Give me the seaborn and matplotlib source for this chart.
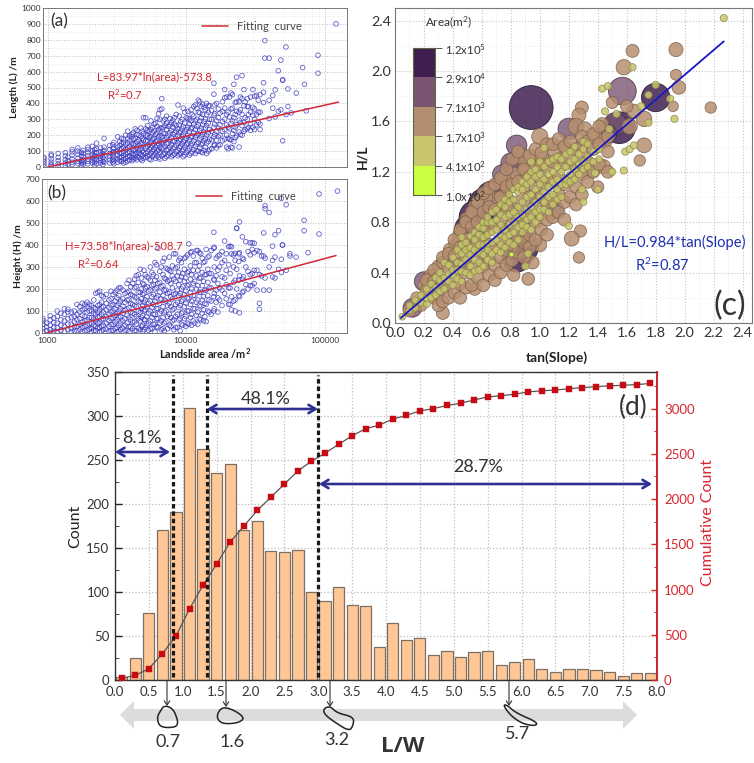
"""Landslide geometry figure: L/H vs area, H/L vs tan(slope), L/W histogram."""

import numpy as np
import pandas as pd
import matplotlib
matplotlib.use("Agg")
import matplotlib.pyplot as plt
import matplotlib.patches as mpatches
from matplotlib.colors import ListedColormap
from matplotlib.ticker import LogLocator, MultipleLocator, NullFormatter
import seaborn as sns

# ── Panel (a): length against area, values grouped per area column ─────────
a_area = [940, 1060, 1190, 1340, 1500, 1650, 1800, 1950, 2100, 2250, 2400, 2550, 2800, 3000, 3200, 3400,
          3650, 3900, 4150, 4400, 4700, 4900, 5100, 5400, 5700, 6000, 6300, 6650, 7000, 7400, 7800, 8200,
          8700, 9100, 9500, 10000, 10500, 11000, 11600, 12200, 12800, 13400, 14000, 14700, 15800, 16500,
          17500, 18900, 20000, 21000, 22000, 23000, 24000, 25200, 26000, 27500, 29000, 30200, 32000,
          34000, 36000, 36800, 39500, 42000, 43700, 46000, 48000, 49500, 52300, 54000, 57000, 62000,
          69000, 71000, 73000, 89000, 120000]
a_length = [
    [5, 20, 35, 50, 60], [5, 15, 30, 50, 70, 80], [5, 20, 40, 60, 85], [10, 25, 45, 70, 90],
    [15, 30, 50, 75, 95, 110], [20, 35, 55, 80, 100, 120], [15, 30, 45, 65, 85, 105],
    [20, 35, 50, 70, 90, 110, 125], [25, 40, 60, 80, 100, 130], [20, 45, 65, 90, 115, 150],
    [25, 40, 55, 75, 95, 120], [30, 50, 70, 105, 125, 180], [25, 45, 65, 85, 110, 135],
    [20, 40, 60, 95, 120, 155], [30, 50, 75, 100, 125, 190], [35, 60, 85, 115, 145, 180],
    [30, 55, 80, 110, 140, 200], [45, 70, 95, 130, 165, 195], [50, 75, 105, 140, 175, 215],
    [45, 65, 90, 125, 160, 205, 230], [50, 80, 115, 150, 190, 245], [55, 90, 130, 170, 210, 310],
    [60, 85, 120, 165, 200, 240, 310], [50, 75, 110, 145, 185, 225], [65, 100, 135, 175, 215, 250],
    [55, 90, 125, 160, 205, 275], [60, 105, 145, 190, 235, 335], [70, 115, 155, 195, 245, 365, 430],
    [55, 85, 130, 170, 210, 260, 300], [75, 110, 150, 200, 255], [65, 100, 140, 185, 230, 280],
    [80, 125, 165, 215, 270, 310], [70, 105, 150, 195, 240, 390], [85, 130, 175, 225, 285],
    [65, 110, 160, 205, 255, 370], [90, 140, 180, 235, 310], [75, 120, 170, 220, 270, 300],
    [95, 150, 195, 250, 330], [85, 130, 185, 235, 290, 390], [100, 155, 210, 265, 345, 420],
    [95, 140, 190, 245, 310, 380], [105, 165, 220, 285, 375], [85, 150, 200, 260, 330, 400],
    [110, 175, 235, 300, 385], [135, 190, 250, 325, 458, 527], [120, 170, 225, 290, 400],
    [140, 200, 265, 340], [175, 235, 300, 370, 435, 487], [115, 180, 250, 345], [125, 170, 275, 365, 465],
    [160, 230, 310, 520], [195, 265, 350, 410, 565], [125, 220, 295, 345, 410], [200, 260, 330, 430, 575],
    [225, 280, 385, 487], [240, 300, 380, 430], [230, 270, 345, 440], [250, 325, 375, 487],
    [265, 330, 450], [235, 270, 345, 455], [405, 470, 530], [685, 795], [305, 420, 685], [370, 450],
    [315, 485], [350, 605], [360, 672], [165, 548, 545], [330, 755], [380, 491], [340], [465],
    [625], [520], [353], [590, 703], [900]]
a_area_fill = [1400, 1750, 2180, 2500, 2950, 3300, 3520, 3780, 4050, 4280, 4550, 4800, 5250, 5550, 5850, 6150,
               6450, 6800, 7200, 7600, 8000, 8450, 8900, 9300, 9750, 10250, 10800, 11300, 11900, 12500, 13100,
               13700, 14400, 15200, 16000, 17000, 18200, 19500, 20500, 21500, 22500, 24500, 26500, 28000,
               31000, 33000]
a_length_fill = [
    [18, 38, 62], [10, 25, 42, 72, 92], [12, 30, 50, 72, 92, 110], [15, 35, 60, 85, 100],
    [30, 50, 72, 90, 115, 140], [40, 62, 90, 110, 135, 160], [25, 45, 70, 95, 125, 155, 175],
    [38, 65, 88, 120, 150, 180, 225], [40, 60, 85, 115, 150, 190, 205], [55, 80, 110, 145, 180, 240],
    [60, 85, 105, 135, 170, 200], [40, 70, 100, 140, 180, 225], [70, 95, 130, 160, 195, 230, 260],
    [45, 85, 120, 155, 190, 235, 290], [75, 110, 145, 180, 225, 270], [70, 100, 135, 170, 215, 255, 305],
    [50, 90, 125, 160, 200, 245, 300, 360], [80, 120, 165, 210, 250, 290], [65, 105, 145, 185, 235, 275, 320],
    [90, 125, 170, 215, 265, 305], [75, 115, 160, 205, 250, 295], [95, 135, 180, 225, 260, 330],
    [80, 120, 165, 215, 265, 320], [100, 145, 190, 240, 300], [75, 125, 170, 220, 275, 345],
    [105, 150, 200, 250, 305, 350], [85, 135, 185, 240, 290, 360], [110, 165, 215, 270, 320, 380],
    [100, 145, 200, 255, 300, 370], [120, 175, 230, 290, 340, 410], [90, 150, 205, 265, 330, 395],
    [125, 180, 245, 300, 360], [100, 160, 215, 275, 345, 385], [115, 170, 225, 300, 355],
    [140, 205, 270, 335, 390], [135, 190, 245, 310, 365], [165, 225, 285, 350, 410],
    [125, 200, 265, 330, 440], [175, 240, 315, 440], [120, 210, 290, 370, 455], [185, 250, 330, 405],
    [205, 280, 360, 440], [235, 310, 410], [250, 330, 380], [235, 300, 365, 445], [280, 345, 420]]
a_fit_area = [1000, 125000]
a_fit_length = [0, 408]

# ── Panel (b): height against area ─────────────────────────────────────────
b_area = [940, 1060, 1190, 1340, 1500, 1650, 1800, 1950, 2100, 2250, 2400, 2550, 2800, 3000, 3200, 3400,
          3650, 3900, 4150, 4400, 4700, 4900, 5100, 5400, 5700, 6000, 6300, 6650, 7000, 7400, 7800, 8200,
          8700, 9100, 9500, 10000, 10500, 11000, 11600, 12200, 12800, 13400, 14000, 14700, 15900, 16500,
          17500, 19000, 20300, 21300, 22600, 23200, 24300, 25500, 27000, 29000, 31000, 33800, 36300,
          37100, 39700, 42000, 43700, 46400, 48600, 49500, 52600, 56000, 62000, 70800, 75600, 90600, 123000]
b_height = [
    [5, 20, 40, 55, 65], [3, 15, 35, 60, 78], [5, 25, 45, 75, 100], [8, 30, 55, 85, 110],
    [5, 20, 40, 70, 95], [10, 30, 60, 85, 130], [5, 25, 50, 80, 105, 135], [12, 35, 60, 95, 120, 140],
    [5, 20, 45, 70, 100, 125], [10, 30, 55, 85, 110, 180], [5, 25, 50, 75, 105, 130, 190],
    [15, 35, 65, 95, 120, 165], [8, 30, 55, 85, 115, 150], [12, 40, 70, 100, 130, 175],
    [5, 25, 60, 90, 125, 160, 195], [15, 45, 75, 110, 145, 205], [10, 35, 65, 105, 140, 180],
    [5, 30, 70, 115, 150, 190, 240], [20, 50, 90, 130, 170, 225], [10, 40, 75, 120, 160, 210, 260],
    [15, 55, 95, 140, 185, 290], [8, 35, 80, 125, 175, 225], [25, 60, 105, 150, 205, 265],
    [12, 45, 90, 135, 190, 250], [20, 70, 115, 165, 215, 275], [5, 40, 85, 145, 200, 240, 320],
    [25, 65, 110, 170, 225, 385], [15, 55, 100, 155, 210, 300], [10, 45, 95, 150, 195, 250, 340],
    [20, 75, 125, 180, 235, 290], [30, 70, 120, 165, 225, 280], [15, 60, 110, 175, 245, 360],
    [25, 85, 140, 195, 260, 300], [10, 65, 125, 180, 240, 340], [35, 95, 150, 210, 270],
    [30, 75, 135, 190, 250, 345], [40, 100, 155, 220, 280, 405], [35, 85, 145, 200, 265, 370],
    [45, 110, 170, 235, 320], [40, 95, 150, 215, 285, 375], [60, 120, 185, 250, 360],
    [55, 105, 165, 235, 320], [52, 130, 195, 265, 380], [95, 150, 205, 270, 350],
    [100, 165, 245, 385, 458], [140, 195, 260, 340], [150, 205, 300, 355], [180, 250, 330, 418],
    [130, 205, 310, 392], [105, 165, 360, 392], [100, 150, 240, 330, 362], [200, 290, 475, 477],
    [92, 165, 260, 365, 505], [185, 245, 340, 437], [220, 300, 415], [215, 265, 355, 410],
    [225, 285, 365, 408], [108, 135, 265, 370], [195, 350, 455], [250, 340, 565, 578],
    [195, 300, 548], [255, 330, 395], [250, 345, 447], [290, 465], [275, 335, 612], [400, 400],
    [285, 583], [360, 350], [345], [465, 512], [365], [450, 632], [645]]
b_area_fill = [1000, 1125, 1265, 1420, 1580, 1730, 1880, 2020, 2180, 2330, 2480, 2680, 2900, 3100, 3300, 3530,
               3780, 4020, 4280, 4550, 4800, 5000, 5250, 5550, 5850, 6150, 6500, 6850, 7200, 7600, 8000, 8450,
               8900, 9300, 9750, 10250, 10800, 11300, 11900, 12500, 13100, 13700, 14400, 15200, 16000, 17000,
               18200, 19500, 20800, 22000, 24000, 26000, 28000, 30000, 32500, 35000]
b_height_fill = [
    [10, 28, 45], [8, 25, 48, 68], [12, 35, 60, 90], [15, 40, 65, 95, 108], [8, 28, 50, 75, 100],
    [15, 38, 65, 95, 120], [8, 30, 55, 75, 110, 130], [18, 42, 70, 100, 130], [10, 35, 62, 90, 115, 150],
    [22, 45, 72, 95, 125, 185], [8, 30, 60, 85, 115, 140, 170], [18, 45, 75, 105, 135, 175],
    [10, 38, 65, 95, 125, 155, 190], [20, 50, 80, 110, 145, 185], [8, 35, 70, 100, 135, 170, 205],
    [22, 55, 90, 120, 155, 195], [12, 45, 80, 110, 150, 185, 225], [28, 60, 95, 135, 175, 210],
    [10, 50, 85, 125, 165, 205, 245], [22, 65, 100, 145, 185, 230, 265], [30, 70, 110, 155, 200, 250],
    [15, 60, 100, 140, 180, 220, 285], [35, 75, 120, 165, 210, 255], [18, 55, 100, 145, 195, 240, 300],
    [40, 85, 130, 175, 220, 265], [28, 65, 110, 160, 205, 255, 310], [45, 90, 135, 185, 230, 280],
    [20, 70, 120, 170, 215, 265, 325], [50, 100, 145, 195, 245, 295], [35, 85, 135, 185, 240, 285, 345],
    [55, 105, 155, 205, 260, 305], [25, 75, 130, 180, 235, 295, 360], [60, 115, 170, 220, 275, 330],
    [40, 90, 145, 200, 255, 320], [65, 120, 175, 235, 290, 340], [45, 100, 160, 215, 275, 355],
    [70, 130, 185, 245, 305, 365], [55, 110, 170, 225, 285, 350], [80, 140, 200, 260, 320, 375],
    [65, 125, 185, 250, 305, 365], [90, 150, 215, 275, 340], [75, 135, 195, 265, 325],
    [100, 170, 230, 290, 345], [85, 145, 205, 270, 375], [110, 180, 240, 300, 390], [95, 160, 225, 285, 350],
    [125, 195, 255, 320, 370], [155, 220, 285, 360], [130, 205, 270, 395], [145, 230, 300, 355],
    [170, 240, 325, 360], [190, 255, 335], [200, 280, 370], [215, 270, 380, 410], [195, 285, 375], [260, 350]]
b_fit_area = [1000, 120000]
b_fit_height = [0, 352]

# ── Panel (c): (tan slope, H/L) per class, largest landslides first ────────
c_dark_points = [(0.94, 1.71), (0.52, 0.74), (0.56, 0.84), (0.62, 0.94), (0.67, 1.0), (0.88, 0.6),
                 (0.84, 0.52), (1.8, 1.79), (1.55, 1.55)]
c_dark_area = [120000, 45000, 55000, 50000, 45000, 45000, 35000, 32000, 45000]
c_mid_points = [(1.57, 1.84), (0.84, 1.41), (1.2, 1.54), (0.85, 1.25), (0.74, 1.18), (0.72, 1.05), (0.66, 0.98),
                (0.2, 0.33), (1.52, 1.58), (1.46, 1.5), (0.8, 1.27), (0.12, 0.12), (0.6, 0.78), (0.76, 0.95),
                (1.1, 0.9), (0.45, 0.62)]
c_mid_area = [30000, 12000, 14000, 14000, 10000, 22000, 20000, 10000, 16000, 12000, 11000, 9000, 18000, 15000,
              9000, 8000]
c_brown_points = [
    (1.64, 2.16), (1.58, 2.03), (1.94, 2.17), (1.94, 1.97), (1.96, 1.87), (1.29, 1.71), (1.92, 1.72), (2.18, 1.71),
    (1.65, 1.68), (1.72, 1.62), (1.27, 1.65), (1.0, 1.48), (1.25, 1.56), (1.31, 1.54), (1.72, 1.41), (1.69, 1.29),
    (1.43, 1.58), (1.5, 1.75), (1.6, 1.72), (1.28, 0.73), (1.22, 0.67), (1.27, 0.52), (0.92, 0.35), (0.82, 0.38),
    (0.55, 0.27), (0.33, 0.08), (1.0, 0.62), (0.95, 0.48), (1.44, 1.24), (1.4, 1.08), (1.34, 1.2), (1.62, 1.56),
    (1.45, 1.45), (1.38, 1.48), (1.3, 1.42), (1.18, 1.38), (1.1, 1.36), (1.02, 1.3), (0.95, 1.3), (0.88, 1.32),
    (0.9, 1.2), (0.82, 1.18), (0.75, 1.12), (0.7, 0.98), (0.62, 1.0), (0.56, 0.92), (0.5, 0.82), (0.45, 0.7),
    (0.42, 0.62), (0.38, 0.58), (0.3, 0.45), (0.25, 0.38), (0.2, 0.3), (0.15, 0.2), (0.1, 0.1), (0.18, 0.14)]
c_brown_area = [
    3000, 5000, 3800, 1800, 3500, 3000, 1600, 2000, 4000, 5000, 3800, 6000, 5500, 4000, 4500, 2000,
    2800, 2400, 2600, 2500, 4500, 2000, 2800, 2600, 2800, 3000, 3500, 3000, 4000, 2500, 3000, 5000,
    4500, 3800, 3500, 3800, 4000, 4200, 4500, 5500, 3800, 4000, 6500, 5000, 5500, 6000, 5000, 4500,
    4200, 3500, 3000, 3000, 2600, 2400, 3000, 2400]
c_brown_tan = [0.22, 0.27, 0.3, 0.33, 0.37, 0.41, 0.45, 0.49, 0.53, 0.57, 0.61, 0.65, 0.69, 0.73, 0.77, 0.81,
               0.85, 0.89, 0.93, 0.97, 1.01, 1.05, 1.09, 1.13, 1.17, 1.21, 1.25, 1.29, 1.33, 1.37, 1.41, 1.47]
c_brown_hl = [
    [0.26, 0.34], [0.2, 0.33, 0.42], [0.14, 0.24, 0.36], [0.17, 0.31, 0.48, 0.52], [0.2, 0.3, 0.44, 0.55],
    [0.24, 0.4, 0.53, 0.66], [0.2, 0.31, 0.47, 0.6, 0.74], [0.28, 0.4, 0.52, 0.66, 0.8],
    [0.3, 0.44, 0.6, 0.76, 0.88], [0.36, 0.52, 0.64, 0.8, 0.96], [0.3, 0.45, 0.56, 0.68, 0.88, 1.03],
    [0.38, 0.5, 0.62, 0.74, 0.92, 1.07], [0.34, 0.46, 0.6, 0.78, 0.9, 1.1], [0.4, 0.52, 0.66, 0.82, 1.0, 1.15],
    [0.46, 0.58, 0.74, 0.88, 1.08, 1.22], [0.5, 0.62, 0.78, 0.92, 1.1, 1.3], [0.56, 0.68, 0.82, 0.96, 1.12, 1.36],
    [0.52, 0.64, 0.78, 0.9, 1.06, 1.22], [0.6, 0.7, 0.84, 1.0, 1.16, 1.33], [0.66, 0.8, 0.94, 1.08, 1.24, 1.38],
    [0.74, 0.86, 1.0, 1.14, 1.26, 1.35], [0.7, 0.82, 0.96, 1.1, 1.24, 1.42], [0.84, 0.98, 1.12, 1.28, 1.42],
    [0.88, 1.02, 1.16, 1.3, 1.46], [0.82, 0.96, 1.1, 1.26, 1.4], [1.0, 1.14, 1.3, 1.44], [0.94, 1.08, 1.24, 1.38],
    [1.02, 1.18, 1.34, 1.48], [1.12, 1.28, 1.44], [1.2, 1.38, 1.5], [1.26, 1.42, 1.56], [1.2, 1.36, 1.48]]
c_olive_tan = [0.05, 0.1, 0.14, 0.18, 0.22, 0.25, 0.28, 0.31, 0.34, 0.37, 0.4, 0.43, 0.46, 0.49, 0.52, 0.55, 0.58,
               0.61, 0.64, 0.67, 0.7, 0.73, 0.76, 0.79, 0.82, 0.85, 0.88, 0.91, 0.94, 0.97, 1.0, 1.03, 1.06, 1.09,
               1.12, 1.15, 1.18, 1.21, 1.24, 1.27, 1.3, 1.33, 1.37, 1.41]
c_olive_hl = [
    [0.05], [0.1, 0.14], [0.12, 0.18], [0.16, 0.22], [0.15, 0.2, 0.27], [0.2, 0.31], [0.22, 0.28, 0.36],
    [0.25, 0.34, 0.4], [0.27, 0.36, 0.48], [0.33, 0.39, 0.46], [0.3, 0.38, 0.42, 0.52], [0.35, 0.42, 0.48, 0.58],
    [0.33, 0.41, 0.47, 0.55, 0.62, 0.68], [0.4, 0.5, 0.58, 0.64], [0.38, 0.45, 0.54, 0.6, 0.69],
    [0.41, 0.5, 0.58, 0.66, 0.72], [0.42, 0.48, 0.56, 0.62, 0.7, 0.76], [0.45, 0.54, 0.62, 0.68, 0.75, 0.8],
    [0.5, 0.58, 0.63, 0.7, 0.8, 0.84], [0.48, 0.55, 0.64, 0.72, 0.8, 0.88], [0.58, 0.66, 0.74, 0.82, 0.9],
    [0.56, 0.62, 0.7, 0.78, 0.86, 0.94], [0.6, 0.68, 0.74, 0.84, 0.92, 0.98], [0.64, 0.7, 0.78, 0.86, 0.96, 1.02],
    [0.62, 0.72, 0.8, 0.88, 0.98, 1.06], [0.66, 0.76, 0.84, 0.92, 1.04, 1.08], [0.72, 0.78, 0.86, 0.96, 1.06, 1.12],
    [0.76, 0.82, 0.9, 1.0, 1.1, 1.16], [0.74, 0.84, 0.92, 1.02, 1.12, 1.2], [0.8, 0.88, 0.96, 1.06, 1.16, 1.22],
    [0.84, 0.9, 1.0, 1.1, 1.18, 1.28], [0.9, 0.96, 1.04, 1.14, 1.24], [0.88, 1.0, 1.08, 1.18, 1.28],
    [0.94, 1.02, 1.12, 1.2, 1.3], [0.98, 1.06, 1.14, 1.24, 1.32], [1.0, 1.1, 1.2, 1.3], [1.1, 1.14, 1.24, 1.34],
    [1.12, 1.18, 1.28, 1.36], [1.14, 1.22, 1.3, 1.4], [1.18, 1.26, 1.34], [1.22, 1.28, 1.38, 1.44],
    [1.24, 1.32, 1.42], [1.28, 1.36], [1.38, 1.3]]
c_olive_outliers = [
    (2.27, 2.42), (1.75, 1.81), (1.8, 1.89), (1.64, 2.03), (1.43, 1.86), (1.47, 1.88), (1.9, 1.78), (1.93, 1.62),
    (1.75, 1.59), (1.45, 1.68), (1.53, 1.66), (1.7, 1.72), (1.48, 1.54), (1.59, 1.36), (1.62, 1.38), (1.65, 1.41),
    (1.5, 1.2), (1.58, 1.21), (0.92, 0.55), (0.94, 1.28), (1.03, 1.39), (1.3, 0.96), (1.4, 1.06), (1.38, 1.19),
    (1.29, 1.06), (1.2, 0.77), (0.9, 0.45)]
c_lime_points = [(0.8, 0.55)]
c_fit_tan = [0.04, 2.27]
c_fit_hl = [0.04, 2.235]
c_bar_labels = ["1.2x10$^5$", "2.9x10$^4$", "7.1x10$^3$", "1.7x10$^3$", "4.1x10$^2$", "1.0x10$^2$"]

# ── Panel (d): L/W histogram and cumulative count ──────────────────────────
lw_centers = [0.1, 0.3, 0.5, 0.7, 0.9, 1.1, 1.3, 1.5, 1.7, 1.9, 2.1, 2.3, 2.5, 2.7, 2.9, 3.1, 3.3, 3.5, 3.7, 3.9,
              4.1, 4.3, 4.5, 4.7, 4.9, 5.1, 5.3, 5.5, 5.7, 5.9, 6.1, 6.3, 6.5, 6.7, 6.9, 7.1, 7.3, 7.5, 7.7, 7.9]
lw_count = [3, 25, 76, 170, 191, 309, 262, 235, 245, 171, 181, 147, 146, 148, 100, 90, 106, 85, 84, 38,
            65, 45, 48, 28, 33, 26, 32, 33, 17, 20, 24, 13, 9, 13, 13, 11, 9, 5, 8, 8]
lw_cumulative = [20, 50, 126, 292, 486, 787, 1049, 1282, 1525, 1700, 1875, 2020, 2166, 2312, 2419, 2507, 2605, 2700,
                 2778, 2818, 2885, 2925, 2975, 3000, 3035, 3060, 3095, 3130, 3142, 3160, 3185, 3197, 3206, 3220,
                 3232, 3243, 3252, 3258, 3266, 3278]

W, H = 754, 763
BLUE_DOT = "#3a3ac0"
RED = "#d8262f"


def fig_xy(x, y):
    """Pixel position in the picture -> figure fraction."""
    return x / W, 1 - y / H


def axes_px(fig, left, top, right, bottom):
    return fig.add_axes([left / W, 1 - bottom / H, (right - left) / W, (bottom - top) / H])


def note(fig, x, y, text, **kw):
    kw.setdefault("ha", "center")
    kw.setdefault("va", "center")
    fig.text(*fig_xy(x, y), text, **kw)


def columns_frame(xs, values, x="area", y="value"):
    return pd.DataFrame({x: xs, y: values}).explode(y).astype(float)


def smooth_closed(points, rounds=3):
    pts = np.array(points, dtype=float)
    for _ in range(rounds):
        nxt = np.roll(pts, -1, axis=0)
        pts = np.column_stack([0.75 * pts + 0.25 * nxt, 0.25 * pts + 0.75 * nxt]).reshape(-1, 2)
    return pts


def draw_log_panel(ax, frame, fit_x, fit_y, ymax, ylabel, legend_x, legend_y):
    sns.scatterplot(data=frame, x="area", y="value", ax=ax, s=11, facecolors="none",
                    edgecolor=BLUE_DOT, linewidth=0.6, alpha=0.8, legend=False)
    sns.lineplot(x=fit_x, y=fit_y, ax=ax, color="#d02836", lw=1.1, label="Fitting  curve")
    ax.set_xscale("log")
    ax.set_xlim(925, 144000)
    ax.set_ylim(0, ymax)
    ax.xaxis.set_major_locator(LogLocator(base=10, numticks=6))
    ax.xaxis.set_minor_locator(LogLocator(base=10, subs=np.arange(2, 10), numticks=6))
    ax.yaxis.set_major_locator(MultipleLocator(100))
    ax.yaxis.set_minor_locator(MultipleLocator(50))
    ax.xaxis.set_minor_formatter(NullFormatter())
    ax.grid(which="major", color="#bdbdbd", ls=":", lw=0.7)
    ax.grid(which="minor", color="#e4e4e4", ls=":", lw=0.5)
    ax.tick_params(which="major", axis="y", labelsize=6, length=2.5, width=0.6, color="#555555", pad=1.5, direction="in")
    ax.tick_params(which="major", axis="x", labelsize=6, length=2.5, width=0.6, color="#555555", pad=3, direction="in")
    ax.tick_params(which="minor", length=1.5, width=0.4, color="#777777", direction="in")
    ax.set_xlabel("")
    ax.set_ylabel(ylabel, fontsize=7.5, fontweight="bold", labelpad=2, color="#222222")
    for sp in ax.spines.values():
        sp.set_color("#777777")
        sp.set_linewidth(0.7)
    ax.legend(loc="upper right", bbox_to_anchor=(legend_x, legend_y), frameon=False, fontsize=8,
              handlelength=2.4, labelcolor="#444444")


def draw_panel_c(fig):
    ax = axes_px(fig, 395, 8, 752, 323)
    brown_fill = columns_frame(c_brown_tan, c_brown_hl, "tan", "hl")
    olive_fill = columns_frame(c_olive_tan, c_olive_hl, "tan", "hl")
    groups = [
        (pd.DataFrame(c_dark_points, columns=["tan", "hl"]), c_dark_area, "#3f2050", "#1c1024", 0.85),
        (pd.DataFrame(c_mid_points, columns=["tan", "hl"]), c_mid_area, "#7b5573", "#3e2c3c", 0.8),
        (pd.DataFrame(c_brown_points, columns=["tan", "hl"]), c_brown_area, "#b68f70", "#7d604c", 0.85),
        (brown_fill, 2800, "#b68f70", "#7d604c", 0.85),
        (olive_fill, 420, "#c8c66c", "#8b8b48", 0.85),
        (pd.DataFrame(c_olive_outliers, columns=["tan", "hl"]), 500, "#c8c66c", "#8b8b48", 0.85),
        (pd.DataFrame(c_lime_points, columns=["tan", "hl"]), 150, "#ccff44", "#8b8b48", 1.0),
    ]
    for df, area, face, edge, alpha in groups:
        df = df.assign(area=area)
        # marker area follows landslide area ** (2/3)
        sns.scatterplot(data=df, x="tan", y="hl", ax=ax, color=face, edgecolor=edge, linewidth=0.6,
                        alpha=alpha, s=0.444 * df["area"].to_numpy() ** 0.66, legend=False)
    sns.lineplot(x=c_fit_tan, y=c_fit_hl, ax=ax, color="#1818c4", lw=1.3)
    ax.set_xlim(0, 2.465)
    ax.set_ylim(0, 2.5)
    ax.xaxis.set_major_locator(MultipleLocator(0.2))
    ax.xaxis.set_minor_locator(MultipleLocator(0.1))
    ax.yaxis.set_major_locator(MultipleLocator(0.4))
    ax.yaxis.set_minor_locator(MultipleLocator(0.2))
    ax.grid(which="major", color="#c4c4c4", ls=":", lw=0.8)
    ax.grid(which="minor", color="#e4e4e4", ls=":", lw=0.5)
    ax.set_axisbelow(True)
    ax.tick_params(which="major", labelsize=10.3, length=3.5, width=0.7, color="#555555", direction="in", pad=3)
    ax.tick_params(which="minor", length=2, width=0.5, color="#777777", direction="in")
    ax.set_xlabel("")
    ax.set_ylabel("")
    for sp in ax.spines.values():
        sp.set_color("#777777")
        sp.set_linewidth(0.8)
    note(fig, 557, 358, "tan(Slope)", fontsize=10, fontweight="bold", color="#222222")
    note(fig, 362, 157, "H/L", fontsize=10, fontweight="bold", rotation=90, color="#222222")
    note(fig, 448, 22, "Area(m$^2$)", fontsize=8.5, color="#333333")
    note(fig, 675, 242, "H/L=0.984*tan(Slope)", fontsize=10.6, color="#1d2fb0")
    note(fig, 662, 265, "R$^2$=0.87", fontsize=10.6, color="#1d2fb0")
    note(fig, 730, 306, "(c)", fontsize=23, color="#333333")

    # stepped colour key as a one-column heatmap
    key = axes_px(fig, 412.5, 48, 435, 195)
    key_colors = ["#3f1f50", "#7a5470", "#b48e70", "#c9c56e", "#ccff44"]
    sns.heatmap(np.arange(5).reshape(5, 1), ax=key, cmap=ListedColormap(key_colors), cbar=False,
                xticklabels=False, yticklabels=False)
    key.yaxis.tick_right()
    key.set_yticks(np.arange(6))
    key.set_yticklabels(c_bar_labels, fontsize=8.2, color="#333333")
    key.tick_params(axis="y", length=5, width=0.7, color="#555555", pad=2, right=True, left=False)
    for sp in key.spines.values():
        sp.set_visible(True)
        sp.set_color("#5a6a40")
        sp.set_linewidth(0.8)


def span_arrow(fig, x0, x1, y):
    fig.add_artist(mpatches.FancyArrowPatch(fig_xy(x0, y), fig_xy(x1, y), transform=fig.transFigure,
                                            arrowstyle="<->,head_length=5,head_width=3",
                                            color="#2e3192", lw=1.9, shrinkA=0, shrinkB=0, zorder=6))


def draw_panel_d(fig):
    ax = axes_px(fig, 115, 372, 657, 680)
    sns.barplot(x=lw_centers, y=lw_count, ax=ax, native_scale=True, width=0.83, color="#ffc796",
                saturation=1, edgecolor="#7d7062", linewidth=0.9, zorder=2)
    ax.set_xlim(0, 8)
    ax.set_ylim(0, 350)
    ax.xaxis.set_major_locator(MultipleLocator(0.5))
    ax.xaxis.set_minor_locator(MultipleLocator(0.25))
    ax.yaxis.set_major_locator(MultipleLocator(50))
    ax.yaxis.set_minor_locator(MultipleLocator(25))
    ax.set_xticklabels([f"{t:.1f}" for t in ax.get_xticks()])
    ax.grid(which="major", color="#bdbdbd", ls=":", lw=0.9, zorder=0)
    ax.set_axisbelow(True)
    ax.tick_params(which="major", labelsize=9.5, length=5, width=1.0, color="#222222", direction="in", pad=4)
    ax.tick_params(which="minor", length=3, width=0.7, color="#444444", direction="in")
    ax.set_xlabel("")
    ax.set_ylabel("Count", fontsize=11.5, labelpad=3, color="#222222")
    for side in ("left", "bottom", "top"):
        ax.spines[side].set_color("#333333")
        ax.spines[side].set_linewidth(1.0)

    twin = ax.twinx()
    sns.lineplot(x=lw_centers, y=lw_cumulative, ax=twin, color="#555555", lw=0.9, sort=False)
    sns.scatterplot(x=lw_centers, y=lw_cumulative, ax=twin, color="#c80a14", edgecolor="#c80a14",
                    marker="s", s=22, linewidth=0.3, zorder=5, legend=False)
    twin.set_ylim(0, 3405)
    twin.set_xlim(0, 8)
    twin.yaxis.set_major_locator(MultipleLocator(500))
    twin.yaxis.set_minor_locator(MultipleLocator(250))
    twin.tick_params(which="major", axis="y", labelsize=9.5, length=4, width=1.0, color=RED,
                     labelcolor=RED, direction="in", pad=5)
    twin.tick_params(which="minor", axis="y", length=2.5, width=0.7, color=RED, direction="in")
    twin.grid(False)
    for side, sp in twin.spines.items():
        sp.set_visible(side == "right")
    twin.spines["right"].set_color(RED)
    twin.spines["right"].set_linewidth(1.3)
    twin.set_ylabel("")
    note(fig, 708, 523, "Cumulative Count", fontsize=11.5, rotation=90, color="#d8262f")

    # class boundaries on L/W
    for x in (0.86, 1.36, 3.0):
        twin.axvline(x, ymin=0.01, ymax=0.99, color="#1a1a1a", lw=2.3, ls=(0, (1.4, 0.9)), zorder=6)

    span_arrow(fig, 115, 170, 452)
    span_arrow(fig, 207, 318, 409)
    span_arrow(fig, 319, 652, 484)
    note(fig, 142, 438, "8.1%", fontsize=13, color="#333333")
    note(fig, 266, 399, "48.1%", fontsize=13, color="#333333")
    note(fig, 478, 467, "28.7%", fontsize=13, color="#333333")
    note(fig, 633, 407, "(d)", fontsize=19, color="#333333")


def draw_shape_strip(fig):
    head = 14
    x0, x1, yc, half, wing = 120, 637, 715, 6, 14
    band = [(x0, yc), (x0 + head, yc - wing), (x0 + head, yc - half), (x1 - head, yc - half),
            (x1 - head, yc - wing), (x1, yc), (x1 - head, yc + wing), (x1 - head, yc + half),
            (x0 + head, yc + half), (x0 + head, yc + wing)]
    fig.add_artist(mpatches.Polygon([fig_xy(*p) for p in band], closed=True, transform=fig.transFigure,
                                    facecolor="#dcdcdc", edgecolor="none", zorder=1))

    outlines = [
        [(164, 706), (170, 707), (175, 712), (179, 726), (168, 728), (159, 726), (157, 717), (161, 710)],
        [(223, 707), (234, 710), (245, 718), (238, 723), (223, 724), (217, 719), (218, 712)],
        [(323, 709), (330, 706), (337, 713), (354, 717), (353, 726), (349, 731), (336, 723), (325, 715)],
        [(503, 705), (507, 705), (516, 713), (537, 722), (536, 726), (523, 724), (511, 716)],
    ]
    for outline in outlines:
        pts = smooth_closed(outline)
        fig.add_artist(mpatches.Polygon([fig_xy(*p) for p in pts], closed=True, transform=fig.transFigure,
                                        facecolor="none", edgecolor="#222222", lw=1.1, zorder=3))

    for x, tip in ((167, 706), (226, 707), (330, 707), (509, 706)):
        fig.add_artist(mpatches.FancyArrowPatch(fig_xy(x, 681), fig_xy(x, tip), transform=fig.transFigure,
                                                arrowstyle="->,head_length=3,head_width=2", color="#333333",
                                                lw=0.8, shrinkA=0, shrinkB=0, zorder=4))

    for x, y, label in ((168, 742, "0.7"), (232, 742, "1.6"), (337, 740, "3.2"), (518, 734, "5.7")):
        note(fig, x, y, label, fontsize=13, color="#333333")
    note(fig, 403, 746, "L/W", fontsize=16, fontweight="bold", color="#333333", family="Open Sans")


def main():
    sns.set_theme(style="white")
    plt.rcParams["font.family"] = ["Lato", "DejaVu Sans"]
    plt.rcParams["mathtext.default"] = "regular"
    plt.rcParams["text.color"] = "#333333"
    plt.rcParams["xtick.color"] = "#333333"
    plt.rcParams["ytick.color"] = "#333333"

    fig = plt.figure(figsize=(W / 100, H / 100), dpi=100)

    ax_a = axes_px(fig, 43, 8, 347, 167)
    frame_a = pd.concat([columns_frame(a_area, a_length), columns_frame(a_area_fill, a_length_fill)])
    draw_log_panel(ax_a, frame_a, a_fit_area, a_fit_length, 1000, "Length (L) /m", 0.885, 0.98)
    ax_a.set_xticklabels([])
    note(fig, 59, 21, "(a)", fontsize=12.5, color="#333333")
    note(fig, 154, 77, "L=83.97*ln(area)-573.8", fontsize=8.1, color=RED)
    note(fig, 125, 95, "R$^2$=0.7", fontsize=8.1, color=RED)

    ax_b = axes_px(fig, 42, 179, 347, 333)
    frame_b = pd.concat([columns_frame(b_area, b_height), columns_frame(b_area_fill, b_height_fill)])
    draw_log_panel(ax_b, frame_b, b_fit_area, b_fit_height, 700, "Height (H) /m", 0.865, 0.99)
    ax_b.set_xticks([1000, 10000, 100000])
    ax_b.set_xticklabels(["1000", "10000", "100000"])
    note(fig, 57, 193, "(b)", fontsize=12.5, color="#333333")
    note(fig, 124, 246, "H=73.58*ln(area)-508.7", fontsize=8.1, color=RED)
    note(fig, 98, 264, "R$^2$=0.64", fontsize=8.1, color=RED)
    note(fig, 205, 354, "Landslide area /m$^2$", fontsize=7.8, fontweight="bold", color="#222222")

    draw_panel_c(fig)
    draw_panel_d(fig)
    draw_shape_strip(fig)

    fig.savefig("out.png", dpi=100)


if __name__ == "__main__":
    main()
